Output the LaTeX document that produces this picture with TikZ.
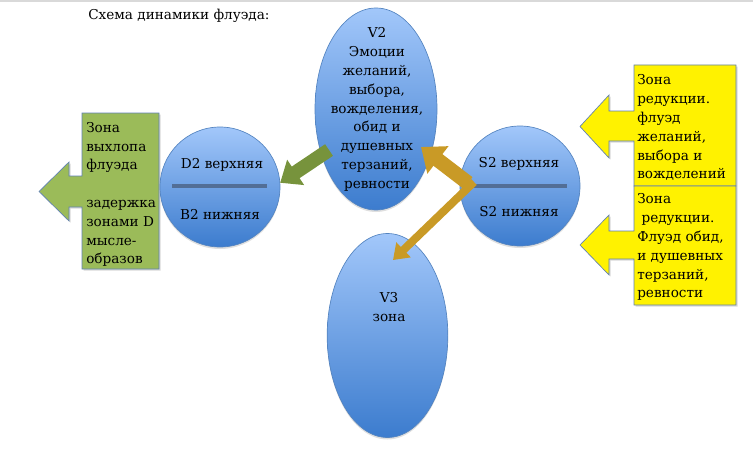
\documentclass[tikz,border=0pt]{standalone}
\usepackage{fontspec}
\setmainfont{DejaVu Serif}
\usetikzlibrary{arrows.meta, positioning, shapes.geometric, calc, shadows}

\definecolor{zonelight}{RGB}{162,199,250}
\definecolor{zonedark}{RGB}{60,124,206}
\definecolor{zoneedge}{RGB}{84,132,192}
\definecolor{boxedge}{RGB}{96,128,180}
\definecolor{exhaustgreen}{RGB}{155,187,89}
\definecolor{arrowgreen}{RGB}{119,147,60}
\definecolor{arrowgold}{RGB}{201,154,38}
\definecolor{splitbar}{RGB}{82,110,150}

\begin{document}
\begin{tikzpicture}[x=0.75pt, y=-0.75pt,
    zone/.style={ellipse, draw=zoneedge, line width=0.5pt, inner sep=0pt,
        top color=zonelight, bottom color=zonedark,
        drop shadow={opacity=0.25, shadow xshift=0pt, shadow yshift=-1.5pt}},
    txt/.style={font=\fontsize{10.2}{14.1}\selectfont, inner sep=0pt},
    calloutbox/.style={draw=boxedge, line width=0.5pt,
        drop shadow={opacity=0.3, shadow xshift=1.2pt, shadow yshift=-1.2pt}},
    bar/.style={splitbar, line width=3pt},
    greenblock/.style={arrowgreen, line width=10.5pt, -{Triangle[length=14pt, width=22pt]}},
    goldblock/.style={arrowgold, line width=11pt, -{Triangle[length=16pt, width=25pt]}},
    goldthin/.style={arrowgold, line width=6pt, -{Triangle[length=11pt, width=15pt]}}]
    \useasboundingbox (0,0) rectangle (753,453);
    \draw[gray!30, line width=1.5pt] (0,1) -- (753,1);

    \node[txt, anchor=west] (title) at (88,16) {Схема динамики флуэда:};

    % Callouts
    \draw[calloutbox, fill=exhaustgreen]
        (159,113) -- (82,113) -- (82,176) -- (69,176) -- (69,162) -- (39,191.5) --
        (69,221) -- (69,207) -- (82,207) -- (82,269) -- (159,269) -- cycle;
    \draw[calloutbox, fill=yellow]
        (736,65) -- (634,65) -- (634,111) -- (609,111) -- (609,95) -- (580,126.5) --
        (609,158) -- (609,141) -- (634,141) -- (634,186) -- (736,186) -- cycle;
    \draw[calloutbox, fill=yellow]
        (736,186) -- (634,186) -- (634,231) -- (609,231) -- (609,215) -- (580,245) --
        (609,275) -- (609,259) -- (634,259) -- (634,305) -- (736,305) -- cycle;

    \node[txt, anchor=north west, align=left] (exhaust) at (86,122)
        {Зона\\выхлопа\\флуэда\\[14.1pt]задержка\\зонами D\\мысле-\\образов};
    \node[txt, anchor=north west, align=left] (reduceup) at (637,74.5)
        {Зона\\редукции.\\флуэд\\желаний,\\выбора и\\вожделений};
    \node[txt, anchor=north west, align=left] (reducedown) at (637,193.5)
        {Зона\\\ редукции.\\Флуэд обид,\\и душевных\\терзаний,\\ревности};

    % Zones
    \node[zone, minimum width=91.5pt, minimum height=151.5pt] (v2) at (376,109) {};
    \node[zone, minimum width=90.5pt, minimum height=153pt] (v3) at (387.5,335.5) {};
    \node[zone, minimum size=90pt] (dd) at (220,187) {};
    \node[zone, minimum size=90pt] (ss) at (520,186) {};

    \draw[bar] ($(dd.center)+(-48,-1)$) -- ($(dd.center)+(47,-1)$);
    \draw[bar] ($(ss.center)+(-52,0)$) -- ($(ss.center)+(47,0)$);

    % Labels
    \node[txt, align=center] (v2text) at (377,109.5)
        {V2\\Эмоции\\желаний,\\выбора,\\вожделения,\\обид и\\душевных\\терзаний,\\ревности};
    \node[txt, align=center] (v3text) at (389,307) {V3\\зона};
    \node[txt] (ddup) at (222,165) {D2 верхняя};
    \node[txt] (dddown) at (220,214) {B2 нижняя};
    \node[txt] (ssup) at (519,164) {S2 верхняя};
    \node[txt] (ssdown) at (519,212) {S2 нижняя};

    % Flows
    \coordinate (gtail) at (329,150);
    \coordinate (stail) at (468,183);
    \coordinate (ttail) at (474,182);
    \coordinate (v2tip) at (421,147);
    \coordinate (v3tip) at (393,260);
    \draw[greenblock] (gtail) -- (dd.4);
    \draw[goldthin] (ttail) -- (v3tip);
    \draw[goldblock] (stail) -- (v2tip);
\end{tikzpicture}
\end{document}
